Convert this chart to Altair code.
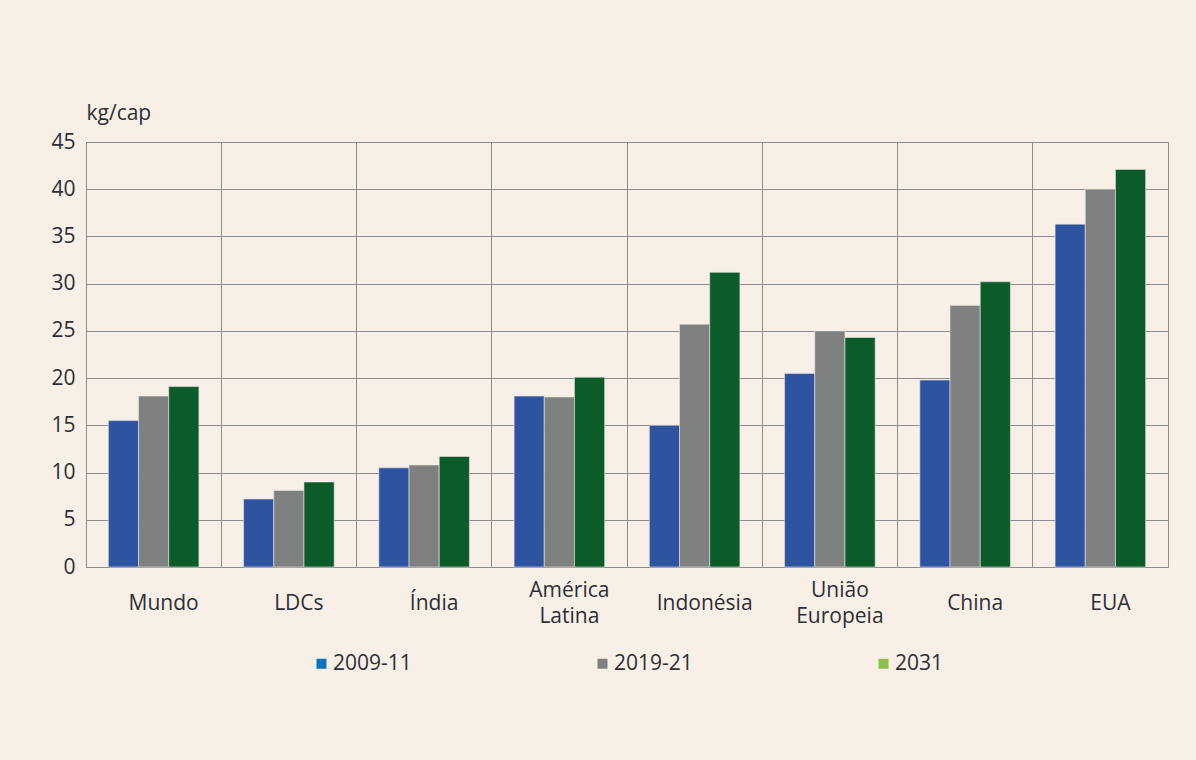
import altair as alt
import pandas as pd

# Per-capita consumption (kg/cap) by region and period
regions = ["Mundo", "LDCs", "Índia", "América|Latina", "Indonésia",
           "União|Europeia", "China", "EUA"]
periods = ["2009-11", "2019-21", "2031"]
v_2009_11 = [15.5, 7.2, 10.5, 18.1, 15.0, 20.5, 19.8, 36.3]
v_2019_21 = [18.1, 8.1, 10.8, 18.0, 25.7, 25.0, 27.7, 40.0]
v_2031 = [19.1, 9.0, 11.7, 20.1, 31.2, 24.3, 30.2, 42.1]
y_ticks = [0, 5, 10, 15, 20, 25, 30, 35, 40, 45]

bar_colors = ["#2E54A1", "#7F8180", "#0B5B2B"]
key_colors = ["#0B72BD", "#808080", "#8DC145"]

rows = []
for period, vals in zip(periods, [v_2009_11, v_2019_21, v_2031]):
    for region, val in zip(regions, vals):
        rows.append({"region": region, "period": period, "value": val})
df = pd.DataFrame(rows)

FONT = "Open Sans"
FS = 21
TEXT = "#2B2F36"
GRID = "#8E8E8E"

x_enc = alt.X(
    "region:N",
    sort=regions,
    scale=alt.Scale(paddingInner=0, paddingOuter=0),
    axis=alt.Axis(
        title=None,
        labelExpr="split(datum.label, '|')",
        labelAngle=0,
        labelBaseline="middle",
        labelLineHeight=26,
        # two-line names sit half a line higher so both kinds share a centre
        labelPadding={"expr": "indexof(datum.value, '|') >= 0 ? 23 : 36"},
        labelOffset=10,
        labelFont=FONT,
        labelFontSize=FS,
        labelColor=TEXT,
        grid=True,
        gridColor=GRID,
        gridWidth=1,
        bandPosition=0,
        ticks=False,
        domain=True,
        domainColor=GRID,
        domainWidth=1,
    ),
)

y_enc = alt.Y(
    "value:Q",
    scale=alt.Scale(domain=[0, 45], nice=False),
    axis=alt.Axis(
        values=y_ticks,
        title="kg/cap",
        titleAngle=0,
        titleAlign="left",
        titleBaseline="alphabetic",
        titleX=0,
        titleY=-23,
        titleFont=FONT,
        titleFontSize=FS,
        titleFontWeight="normal",
        titleColor=TEXT,
        labelFont=FONT,
        labelFontSize=FS,
        labelColor=TEXT,
        labelPadding=11,
        ticks=False,
        domain=False,
        grid=True,
        gridColor=GRID,
        gridWidth=1,
    ),
)

bars = alt.Chart(df).mark_bar(stroke="#E8E4DE", strokeWidth=0.6).encode(
    x=x_enc,
    xOffset=alt.XOffset(
        "period:N", sort=periods,
        scale=alt.Scale(paddingInner=0, paddingOuter=0.74),
    ),
    y=y_enc,
    color=alt.Color(
        "period:N",
        scale=alt.Scale(domain=periods, range=bar_colors),
        legend=None,
    ),
)

# Key layer: no rows, only carries the legend with its own swatch colours
key = alt.Chart(df).transform_filter("false").mark_bar().encode(
    x=x_enc,
    y=y_enc,
    color=alt.Color(
        "period:N",
        scale=alt.Scale(domain=periods, range=key_colors),
        legend=alt.Legend(
            title=None,
            orient="none",
            legendX=225,
            legendY=511,
            direction="horizontal",
            columns=3,
            columnPadding=180,
            symbolType="square",
            symbolSize=100,
            symbolStrokeWidth=0,
            labelFont=FONT,
            labelFontSize=FS,
            labelColor=TEXT,
            labelOffset=1,
        ),
    ),
)

chart = (
    alt.layer(bars, key)
    .resolve_scale(color="independent")
    .resolve_legend(color="independent")
    .properties(
        width=1082,
        height=425,
        autosize=alt.AutoSizeParams(type="none"),
        padding={"left": 86, "top": 142, "right": 28, "bottom": 193},
        background="#F8EFE6",
    )
    .configure_view(stroke=GRID, strokeWidth=1)
)

chart.save("out.html", embed_options={"renderer": "svg", "actions": False})
